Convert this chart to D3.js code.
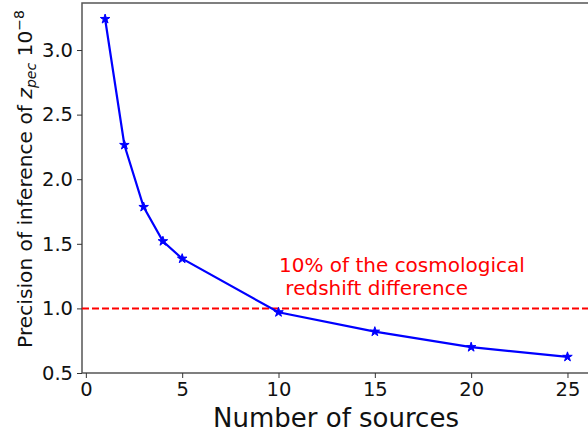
<!DOCTYPE html>
<html><head><meta charset="utf-8">
<script src="https://cdn.jsdelivr.net/npm/d3@7"></script>
<style>body{margin:0;background:#fff}svg{display:block;font-family:"DejaVu Sans",sans-serif}</style>
</head><body>
<svg id="c" width="588" height="436"></svg>
<script>
const sources = [1, 2, 3, 4, 5, 10, 15, 20, 25];
const precision = [3.24, 2.265, 1.785, 1.52, 1.385, 0.97, 0.82, 0.70, 0.625];
const xTicks = [0, 5, 10, 15, 20, 25];
const yTicks = [0.5, 1.0, 1.5, 2.0, 2.5, 3.0];
const thresholdValue = [1.0];
const annotation = ["10% of the cosmological", " redshift difference"];

const svg = d3.select("#c");
const L = 82, R = 590.6, T = 3, B = 373;
const x = d3.scaleLinear().domain([-0.2, 26.2]).range([L, R]);
const y = d3.scaleLinear().domain([0.5, 3.364]).range([B, T]);

// spines
svg.append("rect").attr("x", L).attr("y", T).attr("width", R - L).attr("height", B - T)
  .attr("fill", "none").attr("stroke", "#555").attr("stroke-width", 1.5);

const xa = svg.append("g").attr("transform", `translate(0,${B})`)
  .call(d3.axisBottom(x).tickValues(xTicks).tickFormat(d3.format("d")).tickSize(5).tickPadding(4));
const ya = svg.append("g").attr("transform", `translate(${L},0)`)
  .call(d3.axisLeft(y).tickValues(yTicks).tickFormat(d3.format(".1f")).tickSize(5).tickPadding(4));
[xa, ya].forEach(a => {
  a.select(".domain").remove();
  a.selectAll("line").attr("stroke", "#333").attr("stroke-width", 1);
  a.selectAll("text").attr("font-size", 19.5).attr("fill", "#111").attr("font-family", "DejaVu Sans");
});

// threshold line
svg.selectAll(".thr").data(thresholdValue).enter().append("line")
  .attr("x1", L).attr("x2", R).attr("y1", d => y(d)).attr("y2", d => y(d))
  .attr("stroke", "#ff0000").attr("stroke-width", 2).attr("stroke-dasharray", "7,3");

// data line
const pts = sources.map((s, i) => [s, precision[i]]);
svg.append("path").datum(pts)
  .attr("d", d3.line().x(d => x(d[0])).y(d => y(d[1])))
  .attr("fill", "none").attr("stroke", "#0000ff").attr("stroke-width", 2.2);
const star = d3.symbol().type(d3.symbolStar).size(28);
svg.selectAll(".m").data(pts).enter().append("path")
  .attr("d", star).attr("transform", d => `translate(${x(d[0])},${y(d[1])})`)
  .attr("fill", "#0000ff").attr("stroke", "#0000ff").attr("stroke-width", 1);

// annotation
svg.append("text").attr("x", 279).attr("y", 272).attr("fill", "#ff0000").attr("font-size", 20)
  .attr("xml:space", "preserve")
  .selectAll("tspan").data(annotation).enter().append("tspan")
  .attr("x", 279).attr("dy", (d, i) => i === 0 ? 0 : 23).style("white-space", "pre").text(d => d);

// axis titles
svg.append("text").attr("x", 336).attr("y", 427).attr("text-anchor", "middle")
  .attr("font-size", 26).attr("fill", "#111").text("Number of sources");

const yt = svg.append("text").attr("transform", `translate(32,179) rotate(-90)`)
  .attr("text-anchor", "middle").attr("font-size", 20.2).attr("fill", "#111");
yt.append("tspan").text("Precision of inference of ");
yt.append("tspan").attr("font-style", "italic").text("z");
yt.append("tspan").attr("font-style", "italic").attr("font-size", 14).attr("dy", 4).text("pec");
yt.append("tspan").attr("dy", -4).text(" 10");
yt.append("tspan").attr("font-size", 14).attr("dy", -8).text("\u22128");
</script>
</body></html>
